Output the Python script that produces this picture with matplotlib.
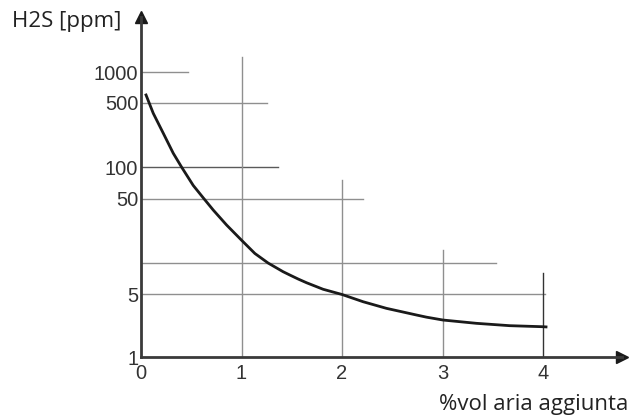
import matplotlib
matplotlib.use('Agg')
import matplotlib.pyplot as plt
import numpy as np

# curve
air_pct = [0.05, 0.122, 0.222, 0.321, 0.405, 0.52, 0.625, 0.719, 0.852, 1.0, 1.133,
           1.265, 1.414, 1.481, 1.564, 1.647, 1.812, 2.0, 2.21, 2.442, 2.74, 2.84,
           3.005, 3.337, 3.668, 4.0, 4.03]
h2s_ppm = [598, 386, 234, 142, 100, 66.8, 50, 37.5, 25.8, 17.7, 12.7,
           10, 8.26, 7.68, 7.03, 6.48, 5.61, 5, 4.15, 3.5, 2.95, 2.79,
           2.59, 2.38, 2.24, 2.18, 2.17]

# horizontal guide lines: level and where they stop on x
h_levels = [1000, 500, 100, 50, 10, 5]
h_ends = [0.47, 1.25, 1.36, 2.21, 3.53, 4.02]
# vertical guide lines: x and where they stop on y
v_pos = [1, 2, 3, 4]
v_tops = [1440, 75, 13.8, 8.0]

y_ticks = [1, 5, 50, 100, 500, 1000]
x_ticks = [0, 1, 2, 3, 4]

# the drawn y axis is only roughly logarithmic: where each level sits (in decades)
scale_vals = [0.1, 1, 5, 10, 50, 100, 500, 1000, 10000]
scale_pos = [-1.0, 0.0, 0.658, 0.989, 1.668, 1.997, 2.674, 3.0, 4.0]
lv = np.log10(scale_vals)


def fwd(v):
    v = np.clip(np.asarray(v, dtype=float), 1e-3, None)
    return np.interp(np.log10(v), lv, scale_pos)


def inv(t):
    return 10 ** np.interp(np.asarray(t, dtype=float), scale_pos, lv)


W, H = 631, 419
fig = plt.figure(figsize=(W / 100, H / 100), dpi=100)

x0_px, y0_px = 141, 357
px_per_x, px_per_dec = 100.5, 95
xmax = 4.79
ytop = 3.58
ax = fig.add_axes([x0_px / W, (H - y0_px) / H,
                   xmax * px_per_x / W, ytop * px_per_dec / H])
ax.set_yscale('function', functions=(fwd, inv))
ax.set_xlim(0, xmax)
ax.set_ylim(1, float(inv(ytop)))

grid_col = '#8f8f8f'
for lev, end in zip(h_levels, h_ends):
    col = '#5a5a5a' if lev == 100 else grid_col
    ax.plot([0, end], [lev, lev], color=col, lw=1.0, zorder=1)
for xv, top in zip(v_pos, v_tops):
    col = '#333333' if xv == 4 else grid_col
    ax.plot([xv, xv], [1, top], color=col, lw=1.0, zorder=1)

ax.plot(air_pct, h2s_ppm, color='#1a1a1a', lw=2.0, zorder=3)

for s in ['top', 'right']:
    ax.spines[s].set_visible(False)
for s in ['left', 'bottom']:
    ax.spines[s].set_color('#3a3a3a')
    ax.spines[s].set_linewidth(2.0)

# arrow heads
ax.plot(1, 0, '>', color='#1a1a1a', ms=9, transform=ax.transAxes, clip_on=False)
ax.plot(0, 1, '^', color='#1a1a1a', ms=9, transform=ax.transAxes, clip_on=False)

ax.yaxis.set_minor_locator(matplotlib.ticker.NullLocator())
ax.xaxis.set_minor_locator(matplotlib.ticker.NullLocator())
ax.set_yticks(y_ticks)
ax.set_yticklabels([str(v) for v in y_ticks], family='Liberation Sans')
ax.set_xticks(x_ticks)
ax.set_xticklabels([str(v) for v in x_ticks], family='Liberation Sans')
ax.tick_params(length=0, labelsize=14.5, labelcolor='#333333')
ax.tick_params(axis='y', pad=2)
ax.tick_params(axis='x', pad=5)

fig.text(12 / W, 1 - 21 / H, 'H2S [ppm]', ha='left', va='center',
         fontsize=16, family='Open Sans', color='#222222')
fig.text(628 / W, 1 - 404 / H, '%vol aria aggiunta', ha='right', va='center',
         fontsize=16, family='Open Sans', color='#222222')

fig.savefig('out.png', dpi=100)
